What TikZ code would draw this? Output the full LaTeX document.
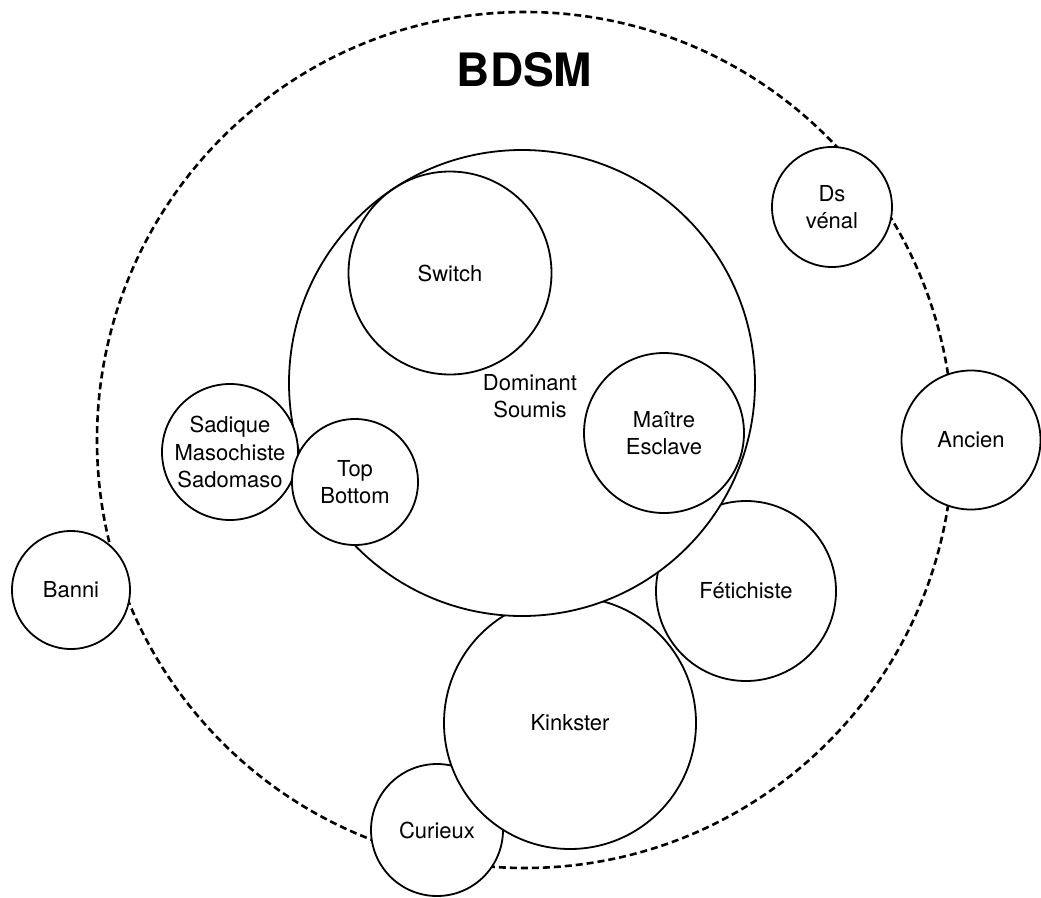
\documentclass[tikz,border=0pt]{standalone}
\usepackage{fontspec}
\setmainfont{TeX Gyre Heros}
\begin{document}
\tikzset{
  circ/.style={circle, draw, line width=1.8pt, inner sep=0pt, fill=white, align=center, font=\fontsize{22}{27.5}\selectfont},
  opencirc/.style={circ, fill=none},
  dashcirc/.style={circle, draw, line width=2.6pt, dash pattern=on 7pt off 4pt, inner sep=0pt},
  lbl/.style={align=center, inner sep=0pt, font=\fontsize{22}{27.5}\selectfont},
  title/.style={inner sep=0pt, font=\fontsize{46}{50}\selectfont\bfseries}
}
\begin{tikzpicture}[x=1pt,y=-1pt]
\useasboundingbox (0,0) rectangle (1041,897);
\node[dashcirc, minimum size=856pt] (bdsm) at (525,440) {};
\node[circ, minimum size=132pt] (curieux) at (437,830) {Curieux};
\node[circ, minimum size=252pt] (kinkster) at (570,723) {Kinkster};
\node[circ, minimum size=180pt] (fetich) at (746,591) {Fétichiste};
\node[circ, minimum size=466pt] (dominant) at (522,383) {};
\node[opencirc, minimum size=203pt] (switch) at (450,273) {Switch};
\node[opencirc, minimum size=160pt] (maitre) at (664,433) {Maître\\Esclave};
\node[circ, minimum size=136pt] (sadique) at (230,452) {Sadique\\Masochiste\\Sadomaso};
\node[circ, minimum size=126pt] (top) at (355,482) {Top\\Bottom};
\node[circ, minimum size=120pt] (dsvenal) at (832,207) {Ds\\vénal};
\node[circ, minimum size=139pt] (ancien) at (971,440) {Ancien};
\node[circ, minimum size=118pt] (banni) at (71,590) {Banni};
\node[lbl] (domlabel) at (530,396) {Dominant\\Soumis};
\node[title] (bdsmlabel) at (524.5,70) {BDSM};
\end{tikzpicture}
\end{document}
